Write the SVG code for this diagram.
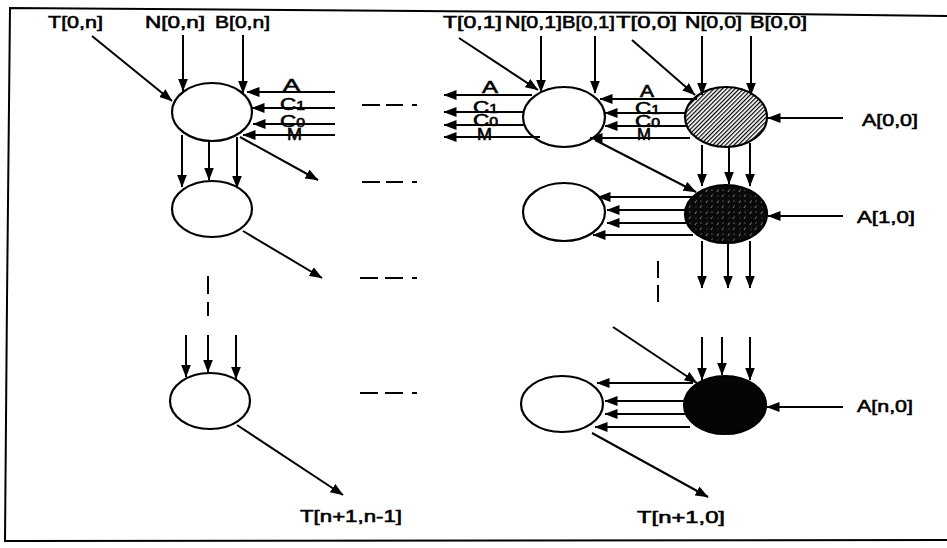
<svg xmlns="http://www.w3.org/2000/svg" width="947" height="548" viewBox="0 0 947 548">
  <style>
    .frame { fill: none; stroke: #000; stroke-width: 2; }
    .cell { fill: #fff; stroke: #000; stroke-width: 2.2; }
    .wire { fill: none; stroke: #000; stroke-width: 2; marker-end: url(#head); }
    .gap { fill: none; stroke: #000; stroke-width: 2; }
    .lbl { font-family: "Liberation Sans", Arial, sans-serif; font-size: 17px; fill: #000; stroke: #000; stroke-width: 0.6; }
    .sig { font-family: "Liberation Sans", Arial, sans-serif; font-size: 17px; fill: #000; stroke: #000; stroke-width: 0.6; }
    .sub { font-size: 12px; }
  </style>
  <defs>
    <marker id="head" viewBox="0 0 13 10" refX="12.5" refY="5" markerWidth="13" markerHeight="10" markerUnits="userSpaceOnUse" orient="auto">
      <path d="M0,0 L13,5 L0,10 z" fill="#000"/>
    </marker>
    <!-- diagonal hatching for the first active cell -->
    <pattern id="hatch" width="3" height="3" patternUnits="userSpaceOnUse" patternTransform="rotate(45)">
      <rect width="3" height="3" fill="#fff"/>
      <line x1="0" y1="0" x2="0" y2="3" stroke="#000" stroke-width="2.4"/>
    </pattern>
    <!-- dense dark stipple for the second active cell -->
    <pattern id="stipple" width="11" height="11" patternUnits="userSpaceOnUse">
      <rect width="11" height="11" fill="#0a0a0a"/>
      <line x1="2" y1="5" x2="3.5" y2="2.5" stroke="#bbb" stroke-width="0.7"/>
      <line x1="7" y1="10" x2="8.5" y2="7.5" stroke="#aaa" stroke-width="0.7"/>
      <circle cx="8" cy="3" r="0.5" fill="#ccc"/>
      <circle cx="3" cy="9" r="0.4" fill="#bbb"/>
    </pattern>
  </defs>

  <rect width="947" height="548" fill="#fff"/>

  <!-- outer frame (open on the right) -->
  <path class="frame" d="M947,16 L700,13 L420,11 L10,8 L7,300 L5,541 L947,540"/>

  <!-- left column of cells -->
  <g id="cell-0-n"><ellipse class="cell" cx="212" cy="112" rx="40" ry="29"/></g>
  <g id="cell-1-n"><ellipse class="cell" cx="212" cy="209" rx="40" ry="28"/></g>
  <g id="cell-n-n"><ellipse class="cell" cx="210" cy="401" rx="40" ry="28"/></g>

  <!-- middle column of cells -->
  <g id="cell-0-1"><ellipse class="cell" cx="564" cy="117" rx="41" ry="30"/></g>
  <g id="cell-1-1"><ellipse class="cell" cx="564" cy="212" rx="41" ry="29"/></g>
  <g id="cell-n-1"><ellipse class="cell" cx="562" cy="404" rx="41" ry="28"/></g>

  <!-- right column of cells (shaded) -->
  <g id="cell-0-0"><ellipse cx="726" cy="117" rx="41" ry="30" fill="url(#hatch)" stroke="#000" stroke-width="2.2"/></g>
  <g id="cell-1-0"><ellipse cx="726" cy="214" rx="41" ry="29" fill="url(#stipple)" stroke="#000" stroke-width="2.2"/></g>
  <g id="cell-n-0"><ellipse cx="725" cy="405" rx="41" ry="29" fill="#050505" stroke="#000" stroke-width="2.2"/></g>

  <g id="connectors">
    <!-- inputs to cell [0,n] -->
    <line class="wire" x1="92" y1="36" x2="172" y2="101"/>
    <line class="wire" x1="183" y1="35" x2="183" y2="91"/>
    <line class="wire" x1="243" y1="35" x2="243" y2="93"/>
    <line class="wire" x1="335" y1="92" x2="247" y2="92"/>
    <line class="wire" x1="335" y1="108" x2="252" y2="108"/>
    <line class="wire" x1="335" y1="124" x2="253" y2="124"/>
    <line class="wire" x1="335" y1="135" x2="243" y2="135"/>
    <!-- cell [0,n] to cell [1,n] -->
    <line class="wire" x1="182" y1="135" x2="182" y2="187"/>
    <line class="wire" x1="209" y1="141" x2="209" y2="180"/>
    <line class="wire" x1="237" y1="137" x2="237" y2="188"/>
    <line class="wire" x1="240" y1="137" x2="318" y2="180"/>
    <line class="wire" x1="243" y1="231" x2="322" y2="278"/>
    <!-- into cell [n,n] -->
    <line class="wire" x1="186" y1="335" x2="186" y2="377"/>
    <line class="wire" x1="208" y1="335" x2="208" y2="372"/>
    <line class="wire" x1="236" y1="335" x2="236" y2="379"/>
    <line class="wire" x1="237" y1="425" x2="343" y2="495"/>

    <!-- inputs to cell [0,1] -->
    <line class="wire" x1="459" y1="38" x2="538" y2="90"/>
    <line class="wire" x1="541" y1="36" x2="541" y2="92"/>
    <line class="wire" x1="595" y1="36" x2="595" y2="93"/>
    <line class="wire" x1="532" y1="95" x2="444" y2="95"/>
    <line class="wire" x1="523" y1="112" x2="444" y2="112"/>
    <line class="wire" x1="525" y1="125" x2="444" y2="125"/>
    <line class="wire" x1="540" y1="137" x2="444" y2="137"/>
    <line class="wire" x1="697" y1="99" x2="600" y2="99"/>
    <line class="wire" x1="686" y1="113" x2="605" y2="113"/>
    <line class="wire" x1="686" y1="126" x2="605" y2="126"/>
    <line class="wire" x1="690" y1="138" x2="590" y2="138"/>

    <!-- inputs to cell [0,0] -->
    <line class="wire" x1="632" y1="40" x2="695" y2="95"/>
    <line class="wire" x1="702" y1="36" x2="702" y2="95"/>
    <line class="wire" x1="751" y1="36" x2="751" y2="95"/>
    <line class="wire" x1="843" y1="118" x2="768" y2="118"/>
    <!-- cell [0,0] to cell [1,0] -->
    <line class="wire" x1="702" y1="145" x2="702" y2="186"/>
    <line class="wire" x1="729" y1="147" x2="729" y2="184"/>
    <line class="wire" x1="750" y1="143" x2="750" y2="186"/>
    <line class="wire" x1="595" y1="140" x2="696" y2="192"/>
    <!-- cell [1,0] to cell [1,1] -->
    <line class="wire" x1="697" y1="197" x2="598" y2="197"/>
    <line class="wire" x1="687" y1="210" x2="607" y2="210"/>
    <line class="wire" x1="687" y1="223" x2="607" y2="223"/>
    <line class="wire" x1="693" y1="235" x2="593" y2="235"/>
    <line class="wire" x1="843" y1="216" x2="768" y2="216"/>
    <line class="wire" x1="702" y1="241" x2="702" y2="288"/>
    <line class="wire" x1="728" y1="243" x2="728" y2="288"/>
    <line class="wire" x1="750" y1="241" x2="750" y2="288"/>

    <!-- into cell [n,0] -->
    <line class="wire" x1="613" y1="327" x2="697" y2="383"/>
    <line class="wire" x1="702" y1="337" x2="702" y2="380"/>
    <line class="wire" x1="722" y1="337" x2="722" y2="375"/>
    <line class="wire" x1="750" y1="337" x2="750" y2="380"/>
    <line class="wire" x1="843" y1="407" x2="767" y2="407"/>
    <!-- cell [n,0] to cell [n,1] -->
    <line class="wire" x1="693" y1="383" x2="597" y2="383"/>
    <line class="wire" x1="686" y1="401" x2="605" y2="401"/>
    <line class="wire" x1="686" y1="414" x2="605" y2="414"/>
    <line class="wire" x1="690" y1="427" x2="595" y2="427"/>
    <line class="wire" x1="592" y1="433" x2="708" y2="497"/>

    <!-- ellipsis dashes -->
    <path class="gap" d="M362,105 H380 M386,105 H403 M412,105 H417"/>
    <path class="gap" d="M362,182 H380 M386,182 H403 M412,182 H417"/>
    <path class="gap" d="M360,278 H378 M385,278 H403 M412,278 H417"/>
    <path class="gap" d="M360,393 H378 M385,393 H403 M412,393 H417"/>
    <path class="gap" d="M208,276 V294 M208,302 V316"/>
    <path class="gap" d="M658,261 V278 M658,285 V302"/>
  </g>

  <g id="labels">
    <text class="lbl" x="48" y="28" textLength="55" lengthAdjust="spacingAndGlyphs">T[0,n]</text>
    <text class="lbl" x="145" y="28" textLength="60" lengthAdjust="spacingAndGlyphs">N[0,n]</text>
    <text class="lbl" x="215" y="28" textLength="55" lengthAdjust="spacingAndGlyphs">B[0,n]</text>
    <text class="lbl" x="443" y="28" textLength="59" lengthAdjust="spacingAndGlyphs">T[0,1]</text>
    <text class="lbl" x="505" y="28" textLength="57" lengthAdjust="spacingAndGlyphs">N[0,1]</text>
    <text class="lbl" x="562" y="28" textLength="53" lengthAdjust="spacingAndGlyphs">B[0,1]</text>
    <text class="lbl" x="616" y="28" textLength="61" lengthAdjust="spacingAndGlyphs">T[0,0]</text>
    <text class="lbl" x="685" y="28" textLength="57" lengthAdjust="spacingAndGlyphs">N[0,0]</text>
    <text class="lbl" x="750" y="28" textLength="57" lengthAdjust="spacingAndGlyphs">B[0,0]</text>
    <text class="lbl" x="862" y="126" textLength="56" lengthAdjust="spacingAndGlyphs">A[0,0]</text>
    <text class="lbl" x="857" y="223" textLength="58" lengthAdjust="spacingAndGlyphs">A[1,0]</text>
    <text class="lbl" x="857" y="412" textLength="56" lengthAdjust="spacingAndGlyphs">A[n,0]</text>
    <text class="lbl" x="300" y="522" textLength="102" lengthAdjust="spacingAndGlyphs">T[n+1,n-1]</text>
    <text class="lbl" x="637" y="523" textLength="88" lengthAdjust="spacingAndGlyphs">T[n+1,0]</text>

    <!-- signal names on the horizontal buses -->
    <text class="sig" x="283" y="91" textLength="17" lengthAdjust="spacingAndGlyphs">A</text>
    <text class="sig" x="280" y="110" textLength="25" lengthAdjust="spacingAndGlyphs">C<tspan class="sub">1</tspan></text>
    <text class="sig" x="280" y="127" textLength="25" lengthAdjust="spacingAndGlyphs">C<tspan class="sub">0</tspan></text>
    <text class="sig" x="287" y="140" textLength="15" lengthAdjust="spacingAndGlyphs">M</text>

    <text class="sig" x="482" y="93" textLength="16" lengthAdjust="spacingAndGlyphs">A</text>
    <text class="sig" x="473" y="113" textLength="25" lengthAdjust="spacingAndGlyphs">C<tspan class="sub">1</tspan></text>
    <text class="sig" x="473" y="126" textLength="25" lengthAdjust="spacingAndGlyphs">C<tspan class="sub">0</tspan></text>
    <text class="sig" x="477" y="140" textLength="15" lengthAdjust="spacingAndGlyphs">M</text>

    <text class="sig" x="640" y="97" textLength="14" lengthAdjust="spacingAndGlyphs">A</text>
    <text class="sig" x="635" y="114" textLength="25" lengthAdjust="spacingAndGlyphs">C<tspan class="sub">1</tspan></text>
    <text class="sig" x="635" y="127" textLength="25" lengthAdjust="spacingAndGlyphs">C<tspan class="sub">0</tspan></text>
    <text class="sig" x="637" y="140" textLength="14" lengthAdjust="spacingAndGlyphs">M</text>
  </g>
</svg>
